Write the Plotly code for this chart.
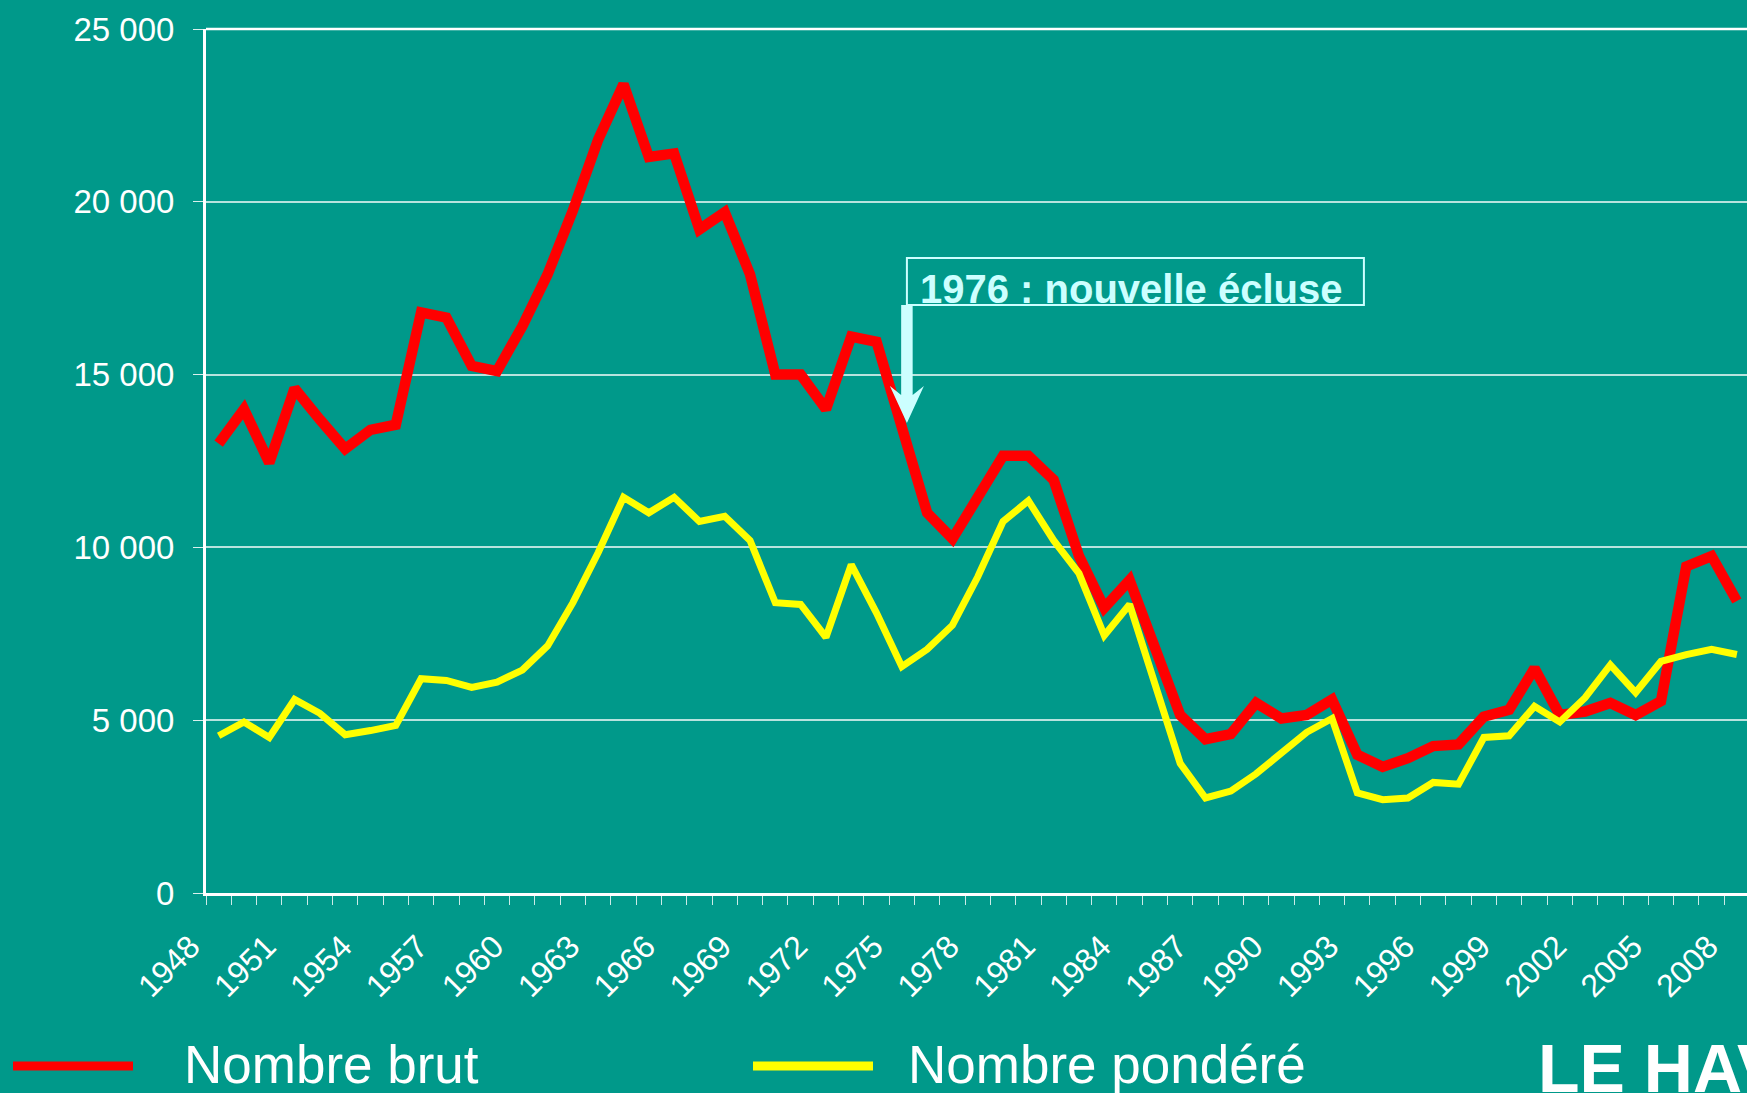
import plotly.graph_objects as go

# ---------------- data ----------------
years = list(range(1948, 2009))

nombre_brut = [
    13000, 14000, 12450, 14600, 13700, 12850, 13400, 13550, 16800, 16650,
    15250, 15100, 16400, 17900, 19750, 21800, 23400, 21300, 21400, 19200,
    19700, 17900, 15000, 15000, 14000, 16100, 15950, 13500, 11000, 10250,
    11450, 12650, 12650, 11950, 9750, 8250, 9050, 7100, 5150, 4450,
    4600, 5500, 5050, 5150, 5600, 4000, 3650, 3900, 4250, 4300,
    5100, 5300, 6500, 5150, 5250, 5500, 5150, 5550, 9450, 9750, 8450,
]

nombre_pondere = [
    4550, 4950, 4500, 5600, 5200, 4580, 4700, 4850, 6200, 6150,
    5950, 6100, 6450, 7150, 8400, 9850, 11450, 11000, 11450, 10750,
    10900, 10200, 8400, 8350, 7400, 9500, 8100, 6550, 7050, 7750,
    9150, 10750, 11350, 10200, 9250, 7450, 8350, 6050, 3750, 2750,
    2950, 3450, 4050, 4650, 5050, 2900, 2700, 2750, 3200, 3150,
    4500, 4550, 5400, 4950, 5650, 6600, 5800, 6700, 6900, 7050, 6900,
]

tick_years = [1948, 1951, 1954, 1957, 1960, 1963, 1966, 1969, 1972, 1975, 1978,
              1981, 1984, 1987, 1990, 1993, 1996, 1999, 2002, 2005, 2008]
tick_labels = [str(y) for y in tick_years]

series_names = ["Nombre brut", "Nombre pondéré"]
annotation_text = "1976 : nouvelle écluse"
annotation_x = 1975.2
annotation_tip_y = 13600

# ---------------- style ----------------
BG = "#00998A"
RED = "#FF0000"
YELLOW = "#FFFF00"
PALE = "#CCFFFF"
FONT = "Liberation Sans, Arial, sans-serif"
W, H = 1747, 1093
ML, MR, MT, MB = 206, 0, 29, 200
PW, PH = W - ML - MR, H - MT - MB


def px(x):
    return (x - ML) / PW


def py(y):
    return (H - MB - y) / PH


fig = go.Figure()
fig.add_trace(go.Scatter(x=years, y=nombre_brut, mode="lines", name=series_names[0],
                         line=dict(color=RED, width=10.5), showlegend=False))
fig.add_trace(go.Scatter(x=years, y=nombre_pondere, mode="lines", name=series_names[1],
                         line=dict(color=YELLOW, width=7), showlegend=False))

shapes = []
# top border of the plot area
shapes.append(dict(type="line", xref="paper", yref="paper", x0=0, x1=1, y0=1, y1=1,
                   line=dict(color="white", width=2.5)))
# annotation box
shapes.append(dict(type="rect", xref="x", yref="y", xsizemode="pixel", ysizemode="pixel",
                   xanchor=annotation_x, yanchor=annotation_tip_y,
                   x0=0, x1=457, y0=118, y1=165,
                   line=dict(color=PALE, width=2), fillcolor="rgba(0,0,0,0)"))
# arrow
shapes.append(dict(type="path", xref="x", yref="y", xsizemode="pixel", ysizemode="pixel",
                   xanchor=annotation_x, yanchor=annotation_tip_y,
                   path="M -5.75,118 L 5.75,118 L 5.75,28 L 17,37 L 0,0 L -17,37 L -5.75,28 Z",
                   line=dict(color=PALE, width=0), fillcolor=PALE))
# legend swatches
shapes.append(dict(type="line", xref="paper", yref="paper", x0=px(13), x1=px(133),
                   y0=py(1066), y1=py(1066), line=dict(color=RED, width=9)))
shapes.append(dict(type="line", xref="paper", yref="paper", x0=px(753), x1=px(873),
                   y0=py(1066), y1=py(1066), line=dict(color=YELLOW, width=9)))

annotations = [
    dict(x=annotation_x, y=annotation_tip_y, xref="x", yref="y", xanchor="left", yanchor="bottom",
         xshift=11, yshift=110, showarrow=False, text="<b>" + annotation_text + "</b>",
         font=dict(family=FONT, size=40, color=PALE)),
    dict(x=px(182), y=py(1064), xref="paper", yref="paper", xanchor="left", yanchor="middle",
         showarrow=False, text=series_names[0], font=dict(family=FONT, size=53, color="white")),
    dict(x=px(906), y=py(1064), xref="paper", yref="paper", xanchor="left", yanchor="middle",
         showarrow=False, text=series_names[1], font=dict(family=FONT, size=53, color="white")),
    dict(x=px(1536), y=py(1028), xref="paper", yref="paper", xanchor="left", yanchor="top",
         showarrow=False, text="<b>LE HAVRE</b>", font=dict(family=FONT, size=68, color="white")),
]

fig.update_layout(
    width=W, height=H,
    margin=dict(l=ML, r=MR, t=MT, b=MB, pad=0),
    paper_bgcolor=BG, plot_bgcolor=BG,
    separators=", ",
    font=dict(family=FONT, color="white"),
    showlegend=False,
    shapes=shapes,
    annotations=annotations,
    xaxis=dict(
        range=[1947.5, 2008.4],
        tickmode="array", tickvals=tick_years, ticktext=tick_labels,
        tickangle=-45, ticks="", showgrid=False, zeroline=False,
        showline=True, linecolor="white", linewidth=3,
        tickfont=dict(family=FONT, size=32, color="white"),
        ticklabelstandoff=19, ticklabelshift=-28,
        minor=dict(tickmode="linear", tick0=1947.5, dtick=1, ticks="outside", ticklen=9,
                   tickwidth=1, tickcolor="rgba(255,255,255,0.8)", showgrid=False),
    ),
    yaxis=dict(
        range=[0, 25000], tickmode="linear", tick0=0, dtick=5000, tickformat=",d",
        ticks="outside", ticklen=10, tickwidth=1, tickcolor="rgba(255,255,255,0.85)",
        showgrid=True, gridcolor="rgba(255,255,255,0.72)", gridwidth=1.5,
        zeroline=False, showline=True, linecolor="white", linewidth=3,
        tickfont=dict(family=FONT, size=33, color="white"),
        ticklabelstandoff=12,
    ),
)

page_fix = (
    "document.documentElement.style.margin='0';"
    "document.documentElement.style.background='" + BG + "';"
    "document.body.style.margin='0';"
    "document.body.style.padding='0';"
    "document.body.style.overflow='hidden';"
    "document.body.style.background='" + BG + "';"
)

fig.write_html("out.html", post_script=page_fix, config={"displayModeBar": False})
